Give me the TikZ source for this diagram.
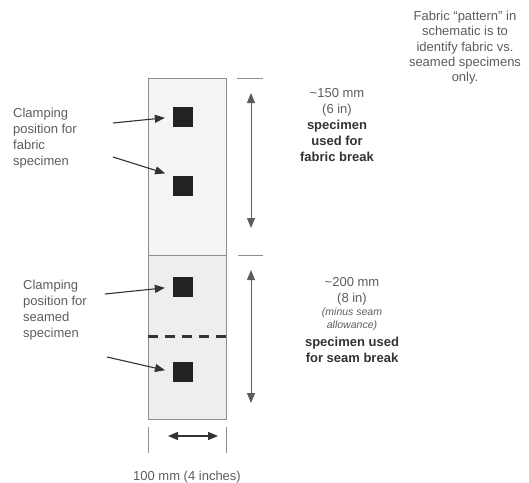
\documentclass[tikz,border=0pt]{standalone}
\usepackage{fontspec}
\setmainfont{Liberation Sans}
\usetikzlibrary{arrows.meta}

\definecolor{txtgray}{HTML}{5C5C5C}
\definecolor{darkgray}{HTML}{333333}
\definecolor{framegray}{HTML}{8E8E8E}
\definecolor{fabricfill}{HTML}{F5F5F5}
\definecolor{seamfill}{HTML}{EEEEEE}
\definecolor{clampfill}{HTML}{222222}

\tikzset{
    clamp/.style={fill=clampfill, minimum size=20pt, inner sep=0pt},
    lbl/.style={font=\fontsize{13}{16}\selectfont, text=txtgray, inner sep=0pt},
    pointer/.style={-{Triangle[length=10pt,width=8pt]}, line width=1.1pt, draw=darkgray, shorten >=8pt},
    dimline/.style={{Triangle[length=10pt,width=8pt]}-{Triangle[length=10pt,width=8pt]}, line width=1pt, draw=darkgray!80},
    tickline/.style={line width=1pt, draw=framegray},
}

\begin{document}
\begin{tikzpicture}[x=1pt, y=-1pt]
        \useasboundingbox (0,0) rectangle (529,482);

        % specimen strip, fabric part and seamed part
        \filldraw[fill=fabricfill, draw=framegray, line width=1pt] (148,78) rectangle (226,255);
        \filldraw[fill=seamfill, draw=framegray, line width=1pt] (148,255) rectangle (226,419);
        % seam
        \draw[dash pattern=on 10pt off 7pt, line width=3pt, draw=darkgray] (148,336) -- (226,336);

        % clamping squares
        \node[clamp] (fab1) at (183,117) {};
        \node[clamp] (fab2) at (183,186) {};
        \node[clamp] (seam1) at (183,287) {};
        \node[clamp] (seam2) at (183,372) {};

        % left labels
        \node[lbl, anchor=west, align=left] (fabnote) at (13,138) {Clamping\\position for\\fabric\\specimen};
        \node[lbl, anchor=west, align=left] (seamnote) at (23,310) {Clamping\\position for\\seamed\\specimen};

        % label arrows to squares
        \coordinate (fabtail1) at (113,123);
        \coordinate (fabtail2) at (113,157);
        \coordinate (seamtail1) at (105,294);
        \coordinate (seamtail2) at (107,357);
        \draw[pointer] (fabtail1) -- (fab1.west);
        \draw[pointer] (fabtail2) -- (fab2.north west);
        \draw[pointer] (seamtail1) -- (seam1.west);
        \draw[pointer] (seamtail2) -- (seam2.west);

        % length ticks on the right
        \coordinate (toptickl) at (237,78);
        \coordinate (toptickr) at (263,78);
        \coordinate (midtickl) at (238,255);
        \coordinate (midtickr) at (263,255);
        \draw[tickline] (toptickl) -- (toptickr);
        \draw[tickline] (midtickl) -- (midtickr);

        % length arrows
        \coordinate (fabtop) at (251,93);
        \coordinate (fabbot) at (251,228);
        \coordinate (seamtop) at (251,270);
        \coordinate (seambot) at (251,403);
        \draw[dimline] (fabtop) -- (fabbot);
        \draw[dimline] (seamtop) -- (seambot);

        % right labels
        \node[lbl, anchor=north, align=center] (fablen) at (337,88)
            {\textasciitilde150 mm\\(6 in)\\\textbf{\color{darkgray}specimen}\\\textbf{\color{darkgray}used for}\\\textbf{\color{darkgray}fabric break}};
        \node[lbl, anchor=north, align=center] (seamlen) at (352,277)
            {\textasciitilde200 mm\\(8 in)\\[-3pt]{\fontsize{10.5}{12}\selectfont\itshape (minus seam}\\[-3pt]{\fontsize{10.5}{12}\selectfont\itshape allowance)}\\[2pt]\textbf{\color{darkgray}specimen used}\\\textbf{\color{darkgray}for seam break}};

        % note top right
        \node[lbl, anchor=north, align=center, font=\fontsize{13}{15.3}\selectfont] (patnote) at (465,11)
            {Fabric “pattern” in\\schematic is to\\identify fabric vs.\\seamed specimens\\only.};

        % width ticks and arrow
        \coordinate (wtickl1) at (148,427);
        \coordinate (wtickl2) at (148,453);
        \coordinate (wtickr1) at (226,427);
        \coordinate (wtickr2) at (226,453);
        \draw[tickline] (wtickl1) -- (wtickl2);
        \draw[tickline] (wtickr1) -- (wtickr2);
        \coordinate (wleft) at (168,436);
        \coordinate (wright) at (218,436);
        \draw[{Triangle[length=10pt,width=8pt]}-{Triangle[length=10pt,width=8pt]}, line width=1.3pt, draw=darkgray] (wleft) -- (wright);
        \node[lbl, anchor=base] (widthlbl) at (187,480) {100 mm (4 inches)};
\end{tikzpicture}
\end{document}
